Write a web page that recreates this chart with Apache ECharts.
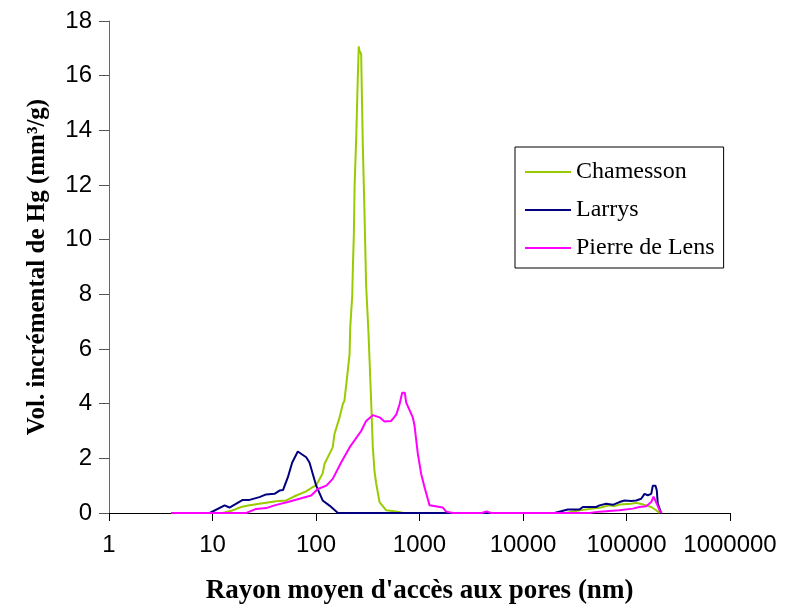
<!DOCTYPE html>
<html>
<head>
<meta charset="utf-8">
<script src="https://cdn.jsdelivr.net/npm/echarts@6/dist/echarts.min.js"></script>
<style>html,body{margin:0;padding:0;background:#fff}#c{width:798px;height:610px}</style>
</head>
<body>
<div id="c"></div>
<script>
// Pore radius (nm) and incremental Hg volume (mm3/g)
const chamessonX = [4, 12.5, 15.2, 18.9, 22.8, 28.4, 41.2, 51.5, 64.4, 80.4, 93.1, 100, 116, 121, 145, 151, 169, 182, 188, 196, 211, 214, 224, 227, 232, 236, 245, 253, 259, 263, 273, 283, 294, 305, 322, 341, 354, 368, 382, 411, 477, 617, 700, 26000, 35150, 47300, 54830, 68530, 76600, 85540, 111000, 124100, 138700, 155000, 173400, 193700, 208300];
const chamessonY = [0, 0, 0.08, 0.22, 0.28, 0.34, 0.43, 0.46, 0.64, 0.79, 0.95, 1.0, 1.45, 1.8, 2.4, 2.9, 3.5, 4.0, 4.1, 4.7, 5.8, 6.76, 7.97, 8.95, 10.16, 11.97, 13.8, 15.85, 17.07, 16.9, 16.8, 13.55, 11.0, 8.34, 6.52, 4.1, 2.4, 1.5, 1.07, 0.4, 0.1, 0.05, 0, 0, 0.1, 0.16, 0.19, 0.28, 0.25, 0.31, 0.34, 0.37, 0.33, 0.28, 0.22, 0.1, 0];

const larrysX = [4, 9.4, 13.1, 14.6, 19.6, 22.8, 28.4, 33, 39.7, 44.4, 48, 53.4, 58.9, 66.7, 80.4, 86.5, 93.1, 100.4, 116, 135, 163, 20140, 20940, 27090, 35150, 37840, 50960, 54830, 63640, 73770, 85540, 95700, 111000, 124100, 138700, 149300, 160800, 173400, 179600, 190600, 196300, 200600, 216300];
const larrysY = [0, 0, 0.28, 0.2, 0.48, 0.48, 0.58, 0.68, 0.7, 0.82, 0.84, 1.3, 1.85, 2.25, 2.04, 1.85, 1.43, 1.0, 0.46, 0.27, 0, 0, 0.07, 0.13, 0.13, 0.22, 0.22, 0.28, 0.34, 0.3, 0.4, 0.46, 0.44, 0.46, 0.52, 0.7, 0.65, 0.7, 1.0, 1.0, 0.82, 0.34, 0];

const pierreX = [4, 21.2, 26.4, 33, 39.7, 53.4, 69.3, 89.9, 104, 126, 145, 175, 211, 273, 305, 354, 411, 459, 533, 596, 641, 680, 721, 744, 861, 895, 964, 1038, 1117, 1250, 1680, 1811, 2100, 4000, 4436, 4900, 43940, 54830, 85540, 115000, 133600, 155000, 173400, 182400, 190600, 196300, 208300, 219300];
const pierreY = [0, 0, 0.15, 0.18, 0.28, 0.4, 0.52, 0.64, 0.88, 1.0, 1.25, 1.85, 2.4, 3.0, 3.37, 3.58, 3.5, 3.35, 3.37, 3.6, 3.97, 4.4, 4.4, 4.04, 3.5, 3.2, 2.16, 1.43, 0.95, 0.28, 0.2, 0.05, 0, 0, 0.06, 0, 0, 0.05, 0.1, 0.16, 0.22, 0.25, 0.4, 0.6, 0.6, 0.34, 0.1, 0];

const seriesNames = ['Chamesson', 'Larrys', 'Pierre de Lens'];
const seriesColors = ['#99CC00', '#000080', '#FF00FF'];

const pairs = (xs, ys) => xs.map((x, i) => [x, ys[i]]);
const datasets = [pairs(chamessonX, chamessonY), pairs(larrysX, larrysY), pairs(pierreX, pierreY)];

const serif = '"Liberation Serif", "Times New Roman", serif';
const sans = '"Liberation Sans", Arial, sans-serif';

const chart = echarts.init(document.getElementById('c'), null, {renderer: 'canvas'});
chart.setOption({
  backgroundColor: '#ffffff',
  animation: false,
  grid: {left: 109, right: 68, top: 21, bottom: 94, containLabel: false},
  legend: {
    orient: 'vertical',
    left: 515, top: 147,
    backgroundColor: '#fff',
    borderColor: '#000', borderWidth: 1,
    padding: [13, 9, 8, 10],
    itemWidth: 46, itemHeight: 2, itemGap: 14,
    icon: 'rect',
    textStyle: {fontFamily: serif, fontSize: 24, lineHeight: 24, color: '#000'},
    data: seriesNames
  },
  xAxis: {
    type: 'log', logBase: 10, min: 1, max: 1000000,
    name: "Rayon moyen d'accès aux pores (nm)",
    nameLocation: 'middle', nameGap: 65,
    nameTextStyle: {fontFamily: serif, fontWeight: 'bold', fontSize: 27, color: '#000'},
    axisLine: {show: true, lineStyle: {color: '#000', width: 1}},
    axisTick: {show: true, inside: false, length: 8, lineStyle: {color: '#000'}},
    minorTick: {show: false},
    splitLine: {show: false},
    axisLabel: {fontFamily: sans, fontSize: 24, color: '#000', margin: 20, formatter: v => String(Math.round(v))}
  },
  yAxis: {
    type: 'value', min: 0, max: 18, interval: 2,
    name: 'Vol. incrémental de Hg (mm³/g)',
    nameLocation: 'middle', nameGap: 59,
    nameTextStyle: {fontFamily: serif, fontWeight: 'bold', fontSize: 25, color: '#000'},
    axisLine: {show: true, lineStyle: {color: '#666', width: 1}},
    axisTick: {show: true, inside: false, length: 10, lineStyle: {color: '#555'}},
    splitLine: {show: false},
    axisLabel: {fontFamily: sans, fontSize: 24, color: '#000', margin: 17}
  },
  series: seriesNames.map((n, i) => ({
    name: n, type: 'line', data: datasets[i],
    showSymbol: false, symbol: 'none',
    lineStyle: {color: seriesColors[i], width: 2},
    itemStyle: {color: seriesColors[i]}
  }))
});
</script>
</body>
</html>
